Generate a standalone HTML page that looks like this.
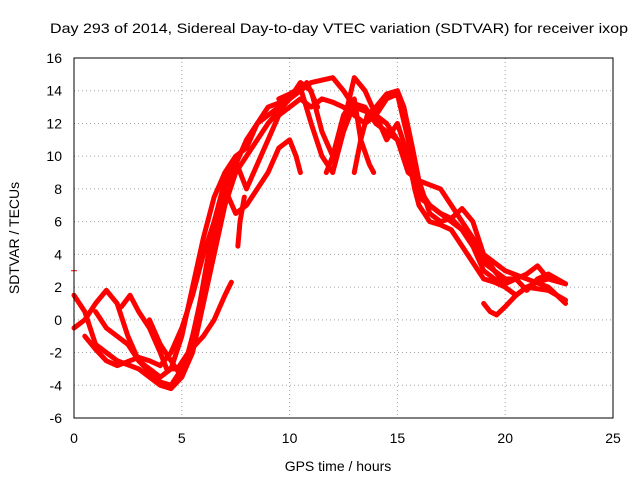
<!DOCTYPE html>
<html><head><meta charset="utf-8"><style>
body{margin:0;background:#fff;}
svg{display:block;font-family:"Liberation Sans",sans-serif;}
</style></head><body>
<svg id="c" width="640" height="480">
<text x="339" y="33" font-size="14" text-anchor="middle" textLength="578" lengthAdjust="spacingAndGlyphs">Day 293 of 2014, Sidereal Day-to-day VTEC variation (SDTVAR) for receiver ixop</text>
<text x="338" y="471" font-size="14" text-anchor="middle">GPS time / hours</text>
<text transform="translate(19,238) rotate(-90)" font-size="14" text-anchor="middle">SDTVAR / TECUs</text>
<g id="grid"></g><g id="series"></g>
<rect x="74" y="58" width="539" height="360" fill="none" stroke="#000"/>
</svg>
<script>
const xTicks=[0,5,10,15,20,25];
const yTicks=[-6,-4,-2,0,2,4,6,8,10,12,14,16];
const track1=[[0,1.5],[0.5,0.5],[1,-1.5],[2,-2.5],[3,-3],[4,-4],[4.5,-4.2],[5,-3.5],[5.5,-2],[6,1],[6.5,4],[7,7],[7.5,9],[8,10],[9,12],[10,13.5],[10.8,14.5],[11.3,13]];
const track2=[[0,-0.5],[0.5,0],[1,1],[1.5,1.8],[2,1],[2.5,-1],[3,-2.5],[3.5,-3],[4,-3.5],[4.5,-3],[5,-1],[5.5,2],[6,5],[6.5,7.5],[7,9],[7.5,10],[8,10.5],[8.5,12],[9,13],[10,13.5],[10.5,14],[11,14.5],[12,14.8],[12.5,14],[13,13],[14,12.5],[14.5,12],[15,11],[15.5,9],[16,8.5],[17,8],[17.5,7],[18,6],[18.5,5],[19,4],[20,3],[21,2.5],[22,2],[22.8,1]];
const track3=[[0.5,-1],[1,-1.8],[1.5,-2.5],[2,-2.8],[3,-2.3],[3.5,-2.5],[4,-2.8],[4.5,-2],[5,-0.5],[5.5,1.5],[6,4],[6.5,6],[7,8],[7.5,9.5],[8,11],[8.5,12],[9,12.5],[9.5,13],[10,13.5],[10.5,14.5],[11,14],[11.5,11.5],[12,10],[12.5,12],[13,14.8],[13.5,14],[14,12.5],[14.5,13.5],[15,13.8],[15.5,11],[16,8],[16.5,7],[17,6.5],[17.5,6.2],[18,5.5],[18.5,4.5],[19,3.5],[19.5,3],[20,2.2],[21,2.8],[21.5,3.3],[22,2.5],[22.8,2.2]];
const track4=[[2.2,0.8],[2.6,1.5],[3,0.5],[3.5,-0.5],[4,-2],[4.3,-3],[4.8,-3],[5.3,-2],[6,-1],[6.5,0],[7,1.5],[7.3,2.3]];
const track5=[[3.5,0],[4,-1.5],[4.5,-2.5],[5,-3.5],[5.5,-1],[6,2],[6.5,5],[7,8],[7.5,6.5],[8,7],[8.5,8],[9,9],[9.5,10.5],[10,11],[10.3,10],[10.5,9]];
const track6=[[1,0.5],[1.5,-0.5],[2,-1],[2.5,-1.5],[3,-2.5],[3.5,-3.2],[4,-3.8],[4.5,-4],[5,-3],[5.3,-2],[5.7,0],[6.1,3],[6.5,6],[7,8.5],[7.5,9.7],[8,8],[8.5,9.5],[9,11],[9.5,12.5],[10,13],[10.5,13.5],[11,13],[11.5,13.5],[12,13.3],[12.5,13],[13,12.5],[13.5,12],[14,12.5],[14.5,11],[15,12],[15.5,10],[15.8,8],[16,7],[16.5,6],[17,5.8],[17.5,5.5],[18,4.5],[18.5,3.5],[19,2.5],[19.5,2.3],[20,2],[20.5,1.5],[21,2],[22,1.8],[22.8,1.2]];
const track7=[[13,9],[13.3,11],[13.6,12.5],[14,13],[14.5,13.8],[15,14],[15.3,13],[15.7,10.5],[16,8.5],[16.5,6.5],[17,6],[17.5,6.2],[18,6.8],[18.5,6],[19,4],[19.5,3],[20,2.5],[20.5,2.5],[21,1.8],[21.5,2.5],[22,2.8],[22.8,2.2]];
const track8=[[19,1],[19.3,0.5],[19.6,0.3],[20,0.8],[20.5,1.5],[21,2],[21.5,2.3],[22,2.5]];
const track9=[[9.5,13.5],[10,13.8],[10.5,14.2],[11,12],[11.5,10],[12,9],[12.5,11.5],[13,13.2],[13.5,13],[14,12],[14.5,11.5],[15,11],[15.5,9.5],[16,7.5],[16.5,7],[17,6.5],[17.5,6],[18,5.5],[18.5,4.5],[19,3],[19.5,2.5],[20,2.2]];
const track10=[[11.7,9],[12,10],[12.5,12.5],[13,13.5],[13.3,11],[13.7,9.5],[13.9,9]];
const track11=[[7.6,4.5],[7.7,6],[7.9,7.5]];
const strayPoint=[[0,3]];
const seriesList=[track1,track2,track3,track4,track5,track6,track7,track8,track9,track10,track11];
const NS="http://www.w3.org/2000/svg";
const X=v=>74+v*(539/25), Y=v=>418-(v+6)*(360/22);
const grid=document.getElementById('grid'), ser=document.getElementById('series');
function mk(tag,at,parent){const e=document.createElementNS(NS,tag);for(const k in at)e.setAttribute(k,at[k]);parent.appendChild(e);return e;}
xTicks.forEach(t=>{
 if(t>0&&t<25){const l=mk('line',{x1:X(t),x2:X(t),y1:58,y2:418,stroke:'#a0a0a0','stroke-dasharray':'1,3'},grid);
 
 }
 const tx=mk('text',{x:X(t),y:443,'font-size':14,'text-anchor':'middle'},grid);tx.textContent=t;
 
 
});
yTicks.forEach(t=>{
 if(t>-6&&t<16){const l=mk('line',{x1:74,x2:613,y1:Y(t),y2:Y(t),stroke:'#a0a0a0','stroke-dasharray':'1,3'},grid);
 
 }
 const tx=mk('text',{x:62,y:Y(t)+5,'font-size':14,'text-anchor':'end'},grid);tx.textContent=t;
 
 
});
seriesList.forEach(s=>{
 const p=mk('polyline',{points:s.map(d=>X(d[0])+','+Y(d[1])).join(' '),fill:'none',stroke:'#ff0000','stroke-width':5,'stroke-linejoin':'round','stroke-linecap':'round'},ser);
 
 
});
strayPoint.forEach(d=>{
 const p=mk('path',{d:`M${X(d[0])-3},${Y(d[1])}h6`,stroke:'#ff0000','stroke-width':1},ser);
 
 
});
</script>
</body></html>
